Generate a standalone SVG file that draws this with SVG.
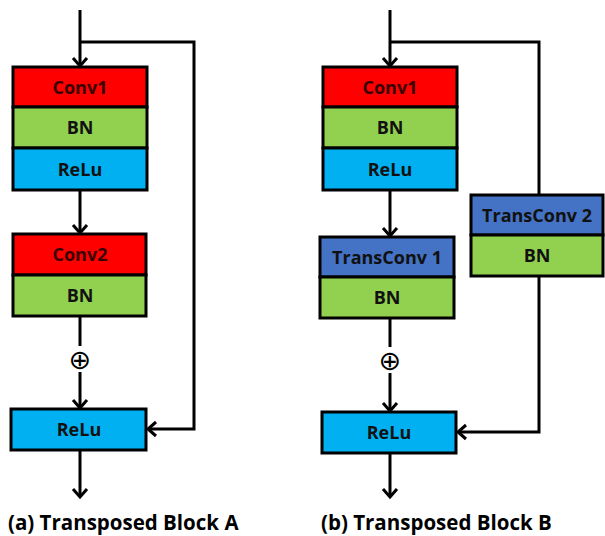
<svg xmlns="http://www.w3.org/2000/svg" width="605" height="536" viewBox="0 0 605 536">
<style>
.box{stroke:#000;stroke-width:3}
.red{fill:#ff0000}.grn{fill:#92d050}.cyn{fill:#00b0f0}.blu{fill:#4472c4}
.lbl{font-family:"Open Sans","Liberation Sans",sans-serif;font-weight:bold;font-size:18px;text-anchor:middle;fill:#111}
.cv{fill:#3a0000}
.cap{font-family:"Open Sans","Liberation Sans",sans-serif;font-weight:bold;font-size:20.5px;fill:#000}
.ln{fill:none;stroke:#000;stroke-width:3;marker-end:url(#ah)}
.pl{fill:none;stroke:#000;stroke-width:3}
.op{font-family:"DejaVu Sans",sans-serif;font-size:27px;text-anchor:middle;fill:#000}
</style>
<defs>
<marker id="ah" markerUnits="userSpaceOnUse" markerWidth="20" markerHeight="20" viewBox="-10 -10 20 20" refX="0" refY="0" orient="auto" overflow="visible">
<path d="M-8,-7 L0,0 L-8,7" fill="none" stroke="#000" stroke-width="3"/>
</marker>
</defs>
<rect width="605" height="536" fill="#fff"/>
<g id="connectors">
<line class="ln" x1="80" y1="10" x2="80" y2="66"/>
<polyline class="ln" points="80,42 194,42 194,429 148,429"/>
<line class="ln" x1="80" y1="190" x2="80" y2="233"/>
<line class="pl" x1="80" y1="316" x2="80" y2="346"/>
<line class="ln" x1="80" y1="372" x2="80" y2="408"/>
<line class="ln" x1="80" y1="450" x2="80" y2="497"/>
<line class="ln" x1="390" y1="10" x2="390" y2="66"/>
<polyline class="pl" points="390,42 539,42 539,195"/>
<polyline class="ln" points="539,276 539,432 458,432"/>
<line class="ln" x1="390" y1="190" x2="390" y2="236"/>
<line class="pl" x1="390" y1="318" x2="390" y2="347"/>
<line class="ln" x1="390" y1="373" x2="390" y2="411"/>
<line class="ln" x1="390" y1="453" x2="390" y2="497"/>
</g>
<g id="a_conv1"><rect class="box red" x="13" y="67" width="134" height="40"/><text class="lbl cv" x="80" y="93.5">Conv1</text></g>
<g id="a_bn1"><rect class="box grn" x="13" y="107" width="134" height="41"/><text class="lbl" x="80" y="134">BN</text></g>
<g id="a_relu1"><rect class="box cyn" x="13" y="148" width="134" height="42"/><text class="lbl" x="80" y="175.5">ReLu</text></g>
<g id="a_conv2"><rect class="box red" x="13" y="234" width="133" height="41"/><text class="lbl cv" x="80" y="261">Conv2</text></g>
<g id="a_bn2"><rect class="box grn" x="13" y="275" width="133" height="41"/><text class="lbl" x="80" y="302">BN</text></g>
<g id="a_add"><text class="op" x="80" y="369">⊕</text></g>
<g id="a_relu2"><rect class="box cyn" x="11" y="409" width="135" height="41"/><text class="lbl" x="79" y="436">ReLu</text></g>
<g id="b_conv1"><rect class="box red" x="323" y="67" width="134" height="40"/><text class="lbl cv" x="390" y="93.5">Conv1</text></g>
<g id="b_bn1"><rect class="box grn" x="323" y="107" width="134" height="41"/><text class="lbl" x="390" y="134">BN</text></g>
<g id="b_relu1"><rect class="box cyn" x="323" y="148" width="134" height="42"/><text class="lbl" x="390" y="175.5">ReLu</text></g>
<g id="b_tconv1"><rect class="box blu" x="320" y="237" width="134" height="40"/><text class="lbl" x="387" y="263.5">TransConv 1</text></g>
<g id="b_bn2"><rect class="box grn" x="320" y="277" width="134" height="41"/><text class="lbl" x="387" y="304">BN</text></g>
<g id="b_add"><text class="op" x="390" y="370">⊕</text></g>
<g id="b_relu2"><rect class="box cyn" x="322" y="412" width="134" height="41"/><text class="lbl" x="389" y="439">ReLu</text></g>
<g id="b_tconv2"><rect class="box blu" x="471" y="195" width="132" height="40"/><text class="lbl" x="537" y="221.5">TransConv 2</text></g>
<g id="b_bn3"><rect class="box grn" x="471" y="235" width="132" height="41"/><text class="lbl" x="537" y="262">BN</text></g>
<g id="captions">
<text class="cap" x="8" y="530">(a) Transposed Block A</text>
<text class="cap" x="321" y="530">(b) Transposed Block B</text>
</g>
</svg>
